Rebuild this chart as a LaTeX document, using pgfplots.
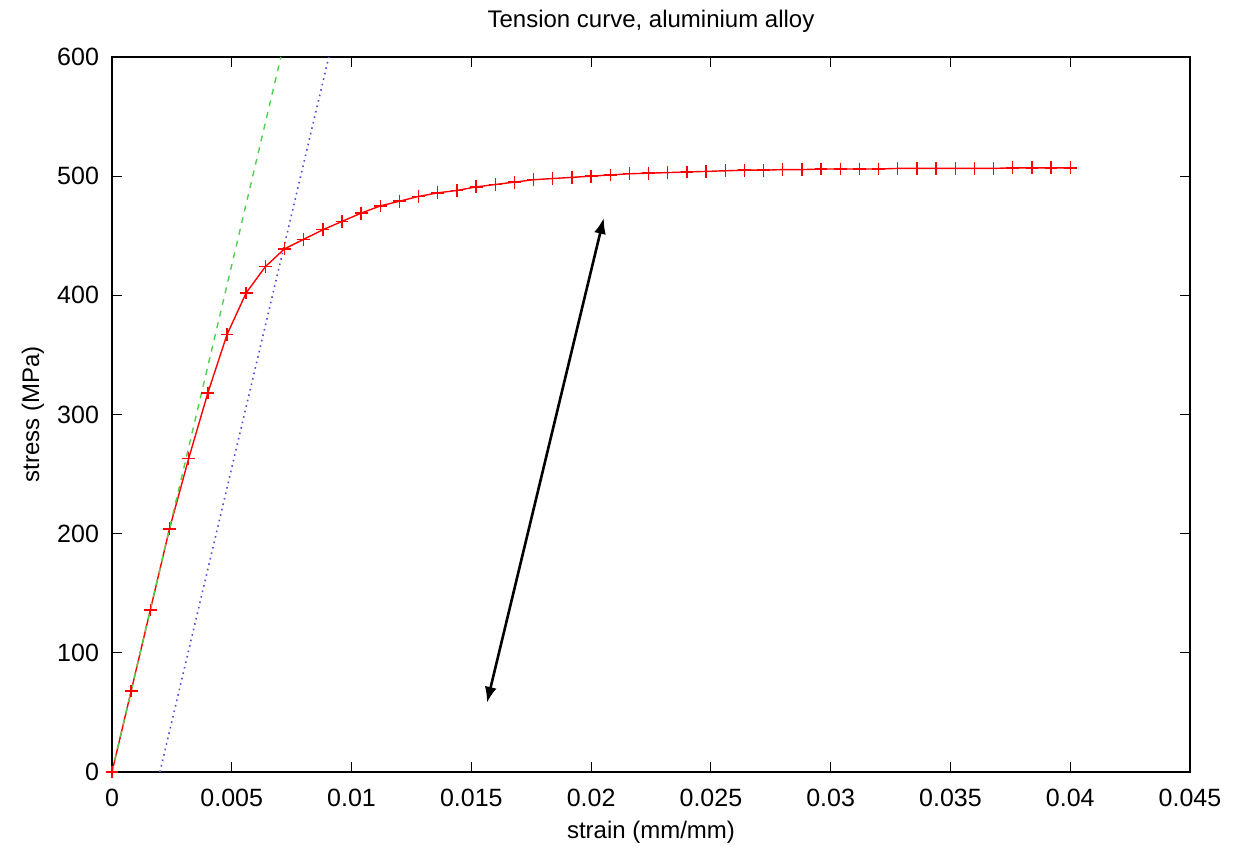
\documentclass[border=0pt]{standalone}
\usepackage{fontspec}
\setmainfont{Liberation Sans}
\usepackage{pgfplots}
\usetikzlibrary{arrows.meta}
\pgfplotsset{compat=1.18}
\begin{document}
\begin{tikzpicture}
\begin{axis}[
  scale only axis,
  width=539pt, height=357.5pt,
  xmin=0, xmax=0.045, ymin=0, ymax=600,
  xtick={0,0.005,0.01,0.015,0.02,0.025,0.03,0.035,0.04,0.045},
  xticklabels={0,0.005,0.01,0.015,0.02,0.025,0.03,0.035,0.04,0.045},
  scaled x ticks=false,
  ytick={0,100,200,300,400,500,600},
  /pgf/number format/assume math mode=true,
  tick align=inside,
  major tick length=5pt,
  tick style={black, line width=0.6pt},
  axis line style={black, line width=0.7pt},
  ticklabel style={font=\fontsize{12.5}{14}\selectfont},
  xticklabel style={yshift=-5pt},
  yticklabel style={xshift=-3pt},
  title={Tension curve, aluminium alloy},
  title style={at={(rel axis cs:0.5,1)}, anchor=center, yshift=12pt, font=\fontsize{12}{14}\selectfont},
  xlabel={strain (mm/mm)},
  ylabel={stress (MPa)},
  xlabel style={at={(rel axis cs:0.5,0)}, anchor=center, yshift=-30pt, font=\fontsize{12}{14}\selectfont},
  ylabel style={at={(rel axis cs:0,0.5)}, anchor=center, yshift=39.5pt, font=\fontsize{12}{14}\selectfont},
  clip=true,
]
\addplot[red, line width=0.7pt, mark=+, mark size=3.2pt, mark options={line width=0.7pt}] coordinates {
(0,0) (0.0008,68) (0.0016,136) (0.0024,204) (0.0032,263) (0.0040,318)
(0.0048,367) (0.0056,402) (0.0064,424) (0.0072,439) (0.0080,447)
(0.0088,455) (0.0096,462) (0.0104,469) (0.0112,475) (0.0120,479)
(0.0128,483) (0.0136,486) (0.0144,488) (0.0152,491) (0.0160,493)
(0.0168,495) (0.0176,497) (0.0184,498) (0.0192,499) (0.0200,500)
(0.0208,501) (0.0216,502) (0.0224,502.5) (0.0232,503) (0.0240,503.5)
(0.0248,504) (0.0256,504.5) (0.0264,505) (0.0272,505) (0.0280,505.5)
(0.0288,505.5) (0.0296,506) (0.0304,506) (0.0312,506) (0.0320,506)
(0.0328,506.5) (0.0336,506.5) (0.0344,506.5) (0.0352,506.5) (0.0360,506.5)
(0.0368,506.5) (0.0376,507) (0.0384,507) (0.0392,507) (0.0400,507)
};
\addplot[color={rgb,255:red,80;green,210;blue,80}, dashed, line width=0.7pt] coordinates {(0,0) (0.00705,600)};
\addplot[color={rgb,255:red,80;green,80;blue,220}, dotted, line width=0.8pt] coordinates {(0.002,0) (0.00905,600)};
\addplot[black, line width=1.3pt, {Latex[length=8pt,width=6pt]}-{Latex[length=8pt,width=6pt]}] coordinates {(0.01565,58) (0.02053,465)};
\end{axis}
\pgfresetboundingbox
\path (current axis.south west) ++(-56pt,-38pt) coordinate (bl);
\path (current axis.north east) ++(22.5pt,28.5pt) coordinate (tr);
\path[use as bounding box] (bl) rectangle (tr);
\end{tikzpicture}
\end{document}
